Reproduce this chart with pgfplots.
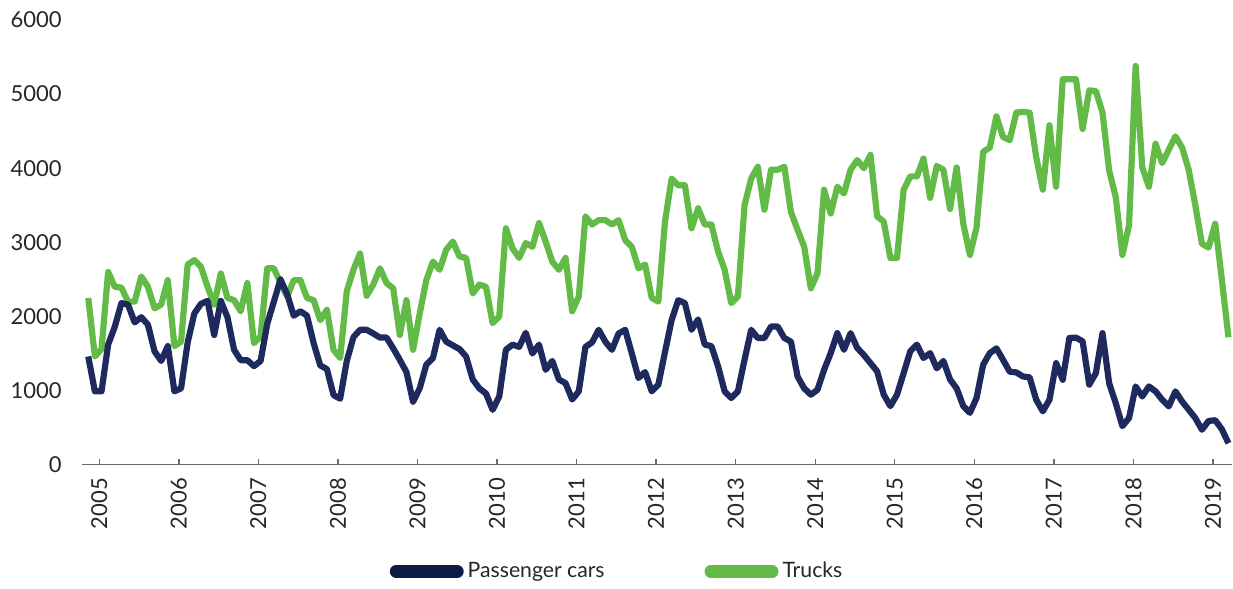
\documentclass[border=0pt]{standalone}
\usepackage{fontspec}
\setmainfont{Lato}
\usepackage{pgfplots}
\usepackage{pgfplotstable}
\pgfplotsset{compat=1.18}

\definecolor{carblue}{RGB}{30,42,94}
\definecolor{legendblue}{RGB}{14,27,68}
\definecolor{truckgreen}{RGB}{98,187,70}
\definecolor{labelgray}{RGB}{38,38,38}
\definecolor{axisgray}{RGB}{105,105,105}

% Monthly registrations, November 2004 to March 2019
\pgfplotstableread{
cars trucks
1460 2250
990 1460
990 1560
1620 2600
1860 2400
2180 2390
2160 2200
1920 2200
1990 2540
1890 2400
1530 2110
1400 2160
1600 2490
990 1600
1030 1660
1650 2700
2040 2760
2170 2670
2210 2400
1750 2160
2210 2580
1990 2250
1550 2220
1410 2070
1410 2450
1330 1640
1400 1730
1900 2650
2200 2650
2500 2450
2300 2270
2010 2490
2070 2490
2010 2250
1640 2220
1340 1950
1290 2090
940 1550
890 1440
1400 2340
1720 2630
1820 2850
1820 2280
1770 2430
1715 2650
1715 2450
1570 2380
1415 1750
1250 2220
850 1550
1030 2040
1350 2490
1440 2740
1820 2630
1660 2900
1610 3010
1560 2810
1460 2790
1150 2310
1030 2430
960 2400
740 1910
920 2000
1550 3190
1620 2920
1590 2790
1780 2990
1500 2940
1620 3260
1280 3010
1400 2740
1150 2630
1100 2790
880 2070
990 2270
1590 3350
1650 3240
1820 3300
1660 3300
1550 3240
1770 3300
1820 3030
1500 2940
1170 2650
1250 2700
990 2250
1080 2200
1520 3280
1950 3860
2220 3770
2180 3770
1820 3190
1960 3460
1620 3240
1600 3240
1330 2880
990 2630
900 2180
990 2270
1415 3500
1820 3860
1710 4020
1710 3440
1865 3980
1865 3980
1710 4020
1660 3410
1190 3170
1030 2940
945 2380
1010 2580
1280 3710
1505 3390
1775 3750
1550 3660
1775 3980
1575 4110
1480 4000
1370 4180
1260 3350
945 3280
790 2790
945 2790
1235 3710
1530 3890
1620 3890
1440 4130
1505 3600
1300 4030
1400 3980
1150 3450
1030 4010
790 3250
700 2830
900 3200
1350 4220
1505 4280
1570 4700
1415 4420
1255 4380
1245 4750
1190 4760
1180 4750
877 4150
720 3710
877 4580
1370 3750
1146 5200
1710 5200
1715 5200
1665 4530
1080 5050
1236 5040
1775 4750
1100 3970
830 3610
520 2830
630 3230
1056 5380
921 4010
1056 3750
990 4330
877 4070
787 4250
990 4430
854 4280
742 3980
630 3500
472 2980
590 2930
600 3250
480 2500
290 1720
}\registrations

\begin{document}
\begin{tikzpicture}
\begin{axis}[
  scale only axis,
  width=575.5pt, height=222.5pt,
  xmin=-0.95, xmax=172.58,
  ymin=0, ymax=6000,
  axis x line*=bottom, axis y line*=left,
  y axis line style={draw=none},
  x axis line style={axisgray, line width=0.7pt},
  xtick={1.66,13.66,25.66,37.66,49.66,61.66,73.66,85.66,97.66,109.66,121.66,133.66,145.66,157.66,169.66},
  xticklabels={2005,2006,2007,2008,2009,2010,2011,2012,2013,2014,2015,2016,2017,2018,2019},
  ytick={0,1000,2000,3000,4000,5000,6000},
  tick align=inside,
  major tick length=3pt,
  xtick style={axisgray, line width=0.7pt},
  ytick style={draw=none},
  ticklabel style={font=\fontsize{11}{13}\selectfont, text=labelgray},
  yticklabel style={anchor=east, inner sep=0pt},
  yticklabel shift=10pt,
  xticklabel style={rotate=90, anchor=east, inner sep=0pt},
  xticklabel shift=6.5pt,
  /pgf/number format/assume math mode=true,
  /pgf/number format/1000 sep={},
  legend columns=2,
  legend style={at={(0.466,-0.24)}, anchor=center, draw=none, fill=none,
    font=\fontsize{10.6}{12.5}\selectfont, text=labelgray,
    /tikz/every even column/.append style={column sep=48pt}},
  legend image code/.code={\draw[#1, line width=6.5pt, line cap=round] (0pt,0pt) -- (30.5pt,0pt);},
]
\addlegendimage{legendblue}
\addlegendentry{Passenger cars}
\addlegendimage{truckgreen}
\addlegendentry{Trucks}

\addplot[truckgreen, line width=3.1pt, line join=round, forget plot]
  table[x expr=\coordindex, y=trucks]{\registrations};
\addplot[carblue, line width=3.1pt, line join=round, forget plot]
  table[x expr=\coordindex, y=cars]{\registrations};
\end{axis}
\path ([shift={(-41pt,-59.5pt)}]current axis.south west) -- ([shift={(0pt,10pt)}]current axis.north east);
\end{tikzpicture}
\end{document}
